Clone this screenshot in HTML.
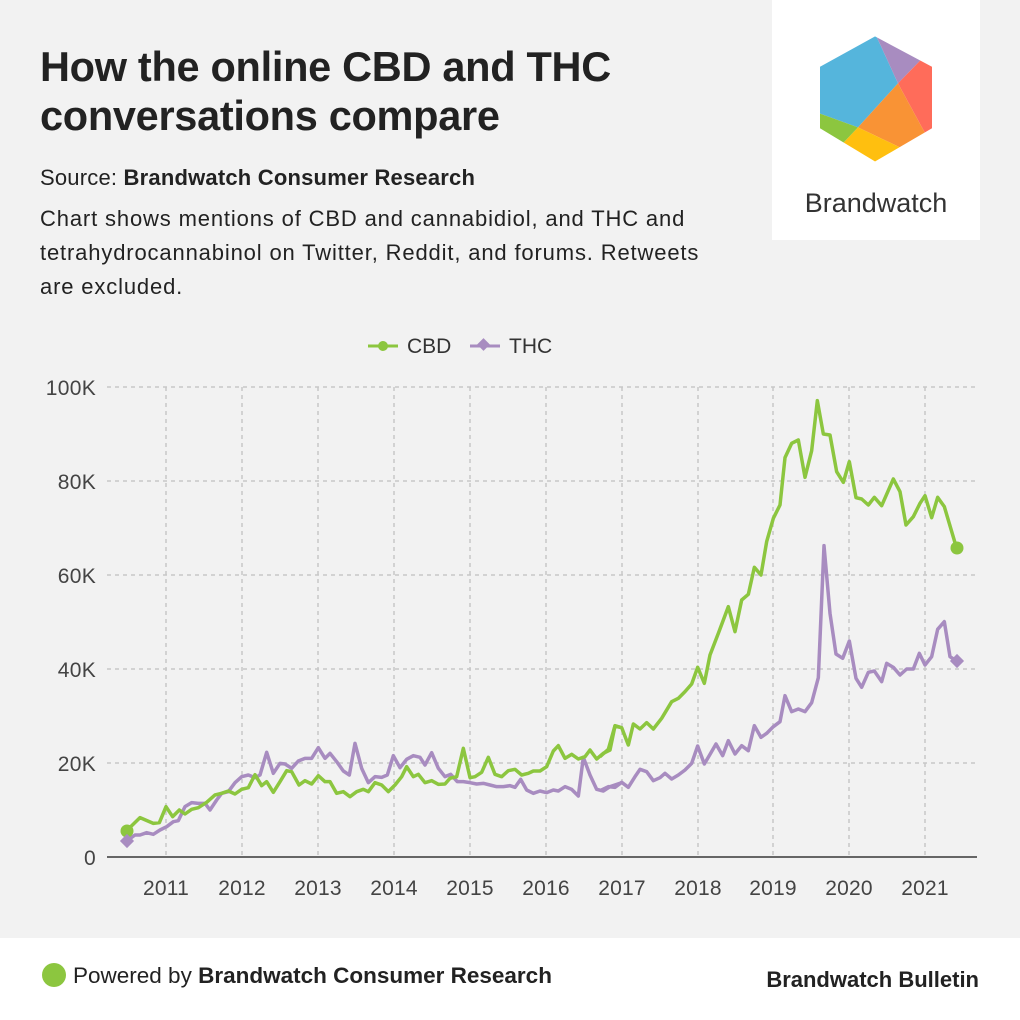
<!DOCTYPE html>
<html><head><meta charset="utf-8"><style>
body{margin:0;width:1020px;height:1020px;background:#f2f2f2;font-family:"Liberation Sans",sans-serif;position:relative;overflow:hidden;color:#222}
.t{position:absolute;left:40px;top:42px;font-size:41.5px;font-weight:bold;line-height:49px;color:#222;letter-spacing:-0.3px}
.s{position:absolute;left:40px;top:165px;font-size:22px;color:#222;letter-spacing:0.2px}
.d{position:absolute;left:40px;top:202px;font-size:22px;line-height:34px;color:#222;width:720px;letter-spacing:0.85px}
.logo{position:absolute;left:772px;top:0;width:208px;height:240px;background:#fff}
.foot{position:absolute;left:0;top:938px;width:1020px;height:82px;background:#fff}
</style></head><body>
<div class="t">How the online CBD and THC<br>conversations compare</div>
<div class="s">Source: <b>Brandwatch Consumer Research</b></div>
<div class="d">Chart shows mentions of CBD and cannabidiol, and THC and<br>tetrahydrocannabinol on Twitter, Reddit, and forums. Retweets<br>are excluded.</div>
<div class="logo">
<svg width="208" height="240" viewBox="772 0 208 240">
<defs><clipPath id="hx"><polygon points="875,33 935,65 935,130 875,165 817,130 817,65"/></clipPath></defs>
<g clip-path="url(#hx)">
<g transform="translate(772,20) scale(0.3333)">
<polygon points="100,100 300,20 378,190 258,322 100,265" fill="#55b5dc"/>
<polygon points="300,20 520,100 448,118 378,190" fill="#a88cc0"/>
<polygon points="448,118 520,100 520,360 465,350 378,190" fill="#ff6c5a"/>
<polygon points="378,190 465,350 400,390 258,322" fill="#f99335"/>
<polygon points="258,322 400,390 465,350 320,470 205,378" fill="#ffbf0f"/>
<polygon points="100,265 258,322 205,378 100,360" fill="#8cc63f"/>
</g></g>
<polygon points="875,33 935,65 935,130 875,165 817,130 817,65" fill="none" stroke="#fff" stroke-width="6" stroke-linejoin="round"/>
<text x="876" y="212" text-anchor="middle" font-size="27" fill="#333" font-family="Liberation Sans">Brandwatch</text>
</svg></div>

<svg style="position:absolute;left:0;top:0" width="1020" height="938">
<g font-size="21" fill="#333">
<line x1="368" y1="346" x2="398" y2="346" stroke="#8cc63f" stroke-width="3"/><circle cx="383" cy="346" r="5" fill="#8cc63f"/>
<text x="407" y="353">CBD</text>
<line x1="470" y1="346" x2="500" y2="346" stroke="#a88cc0" stroke-width="3"/><rect x="479" y="340" width="9" height="9" transform="rotate(45 483.5 344.5)" fill="#a88cc0"/>
<text x="509" y="353">THC</text>
</g>
<g stroke="#c8c8c8" stroke-width="1.5" stroke-dasharray="4,4">
<line x1="107" y1="387" x2="977" y2="387"/><line x1="107" y1="481" x2="977" y2="481"/><line x1="107" y1="575" x2="977" y2="575"/><line x1="107" y1="669" x2="977" y2="669"/><line x1="107" y1="763" x2="977" y2="763"/>
<line x1="166" y1="387" x2="166" y2="857"/><line x1="242" y1="387" x2="242" y2="857"/><line x1="318" y1="387" x2="318" y2="857"/><line x1="394" y1="387" x2="394" y2="857"/><line x1="470" y1="387" x2="470" y2="857"/><line x1="546" y1="387" x2="546" y2="857"/><line x1="622" y1="387" x2="622" y2="857"/><line x1="698" y1="387" x2="698" y2="857"/><line x1="773" y1="387" x2="773" y2="857"/><line x1="849" y1="387" x2="849" y2="857"/><line x1="925" y1="387" x2="925" y2="857"/>
</g>
<line x1="107" y1="857" x2="977" y2="857" stroke="#666" stroke-width="2"/>
<g font-size="21" fill="#444" text-anchor="end" letter-spacing="0.3">
<text x="96" y="395">100K</text><text x="96" y="489">80K</text><text x="96" y="583">60K</text><text x="96" y="677">40K</text><text x="96" y="771">20K</text><text x="96" y="865">0</text>
</g>
<g font-size="21" fill="#444" text-anchor="middle" letter-spacing="0.2">
<text x="166" y="895">2011</text><text x="242" y="895">2012</text><text x="318" y="895">2013</text><text x="394" y="895">2014</text><text x="470" y="895">2015</text><text x="546" y="895">2016</text><text x="622" y="895">2017</text><text x="698" y="895">2018</text><text x="773" y="895">2019</text><text x="849" y="895">2020</text><text x="925" y="895">2021</text>
</g>
<g fill="none" stroke-width="3.5" stroke-linejoin="round">
<g transform="translate(100,640) scale(0.33333)">
<polyline vector-effect="non-scaling-stroke" stroke="#a88cc0" points="80,603 105,585 120,585 140,578 160,583 180,570 200,560 220,545 235,542 255,500 275,488 295,490 315,490 330,510 350,480 365,460 385,455 405,428 425,410 445,405 465,413 480,405 500,337 520,400 540,370 555,372 575,385 595,363 615,355 635,355 655,323 675,355 690,340 710,365 730,393 748,405 765,310 785,385 805,428 825,410 845,412 862,405 880,347 900,383 920,358 940,347 960,352 975,375 995,338 1015,385 1035,410 1052,403 1072,425 1090,425 1110,428 1130,432 1150,430 1170,435 1190,440 1210,440 1230,437 1245,442 1262,418 1280,450 1300,460 1320,453 1340,458 1360,450 1375,453 1395,440 1415,448 1435,468 1450,352 1470,405 1490,448 1510,453 1530,440 1560,430"/>
<polyline vector-effect="non-scaling-stroke" stroke="#8cc63f" points="80,572 120,533 160,550 178,548 198,500 218,530 238,510 255,522 275,508 295,503 320,487 345,465 365,460 385,453 405,462 425,448 445,443 465,404 485,437 500,425 520,457 540,425 560,392 575,395 597,435 615,422 635,432 655,407 675,425 690,425 710,460 730,455 750,470 770,455 790,448 805,455 825,428 845,435 865,455 885,435 905,410 920,380 940,410 955,403 975,428 995,422 1015,433 1035,432 1050,415 1070,410 1090,325 1110,413 1125,410 1145,397 1165,352 1185,403 1205,410 1225,392 1245,388 1265,405 1285,400 1300,393 1320,393 1340,380 1360,333 1375,317 1395,355 1415,343 1435,357 1455,350 1470,330 1490,357 1510,340 1530,330 1545,258 1560,262"/>
</g>
<g transform="translate(600,380) scale(0.33333)">
<polyline vector-effect="non-scaling-stroke" stroke="#a88cc0" points="0,1232 25,1220 45,1222 65,1207 85,1222 105,1190 120,1168 140,1175 160,1202 180,1193 195,1180 215,1197 235,1185 255,1170 275,1150 293,1098 313,1152 330,1123 348,1092 368,1127 385,1082 405,1122 425,1097 445,1112 463,1037 483,1072 500,1060 520,1040 540,1025 555,947 575,995 595,987 615,995 635,968 655,893 672,497 690,700 708,822 728,835 748,783 768,895 785,922 805,877 823,873 845,905 860,850 880,862 900,885 920,867 940,867 958,820 975,855 995,830 1013,748 1033,725 1050,830 1070,843"/>
<polyline vector-effect="non-scaling-stroke" stroke="#8cc63f" points="0,1130 25,1108 45,1037 65,1043 85,1095 100,1032 120,1047 140,1028 160,1047 185,1015 215,965 235,955 255,935 275,912 293,862 313,910 330,825 355,760 385,680 405,755 425,660 445,643 463,562 483,585 500,485 520,415 540,375 555,233 575,190 595,180 615,292 635,212 652,62 670,162 690,165 710,275 730,307 748,245 768,353 785,357 805,375 823,352 845,377 880,297 900,335 918,435 940,410 960,370 975,347 995,413 1013,352 1033,380 1070,505"/>
</g>
</g>
<circle cx="127" cy="831" r="6.5" fill="#8cc63f"/><circle cx="957" cy="548" r="6.5" fill="#8cc63f"/>
<rect x="122" y="836" width="10" height="10" transform="rotate(45 127 841)" fill="#a88cc0"/>
<rect x="952" y="656" width="10" height="10" transform="rotate(45 957 661)" fill="#a88cc0"/>
</svg>

<div class="foot">
<svg width="1020" height="82" style="position:absolute;left:0;top:0">
<circle cx="54" cy="37" r="12" fill="#8cc63f"/>
<text x="73" y="45" font-size="22.5" fill="#222">Powered by <tspan font-weight="bold">Brandwatch Consumer Research</tspan></text>
<text x="979" y="49" font-size="22" font-weight="bold" fill="#222" text-anchor="end">Brandwatch Bulletin</text>
</svg></div>
</body></html>
